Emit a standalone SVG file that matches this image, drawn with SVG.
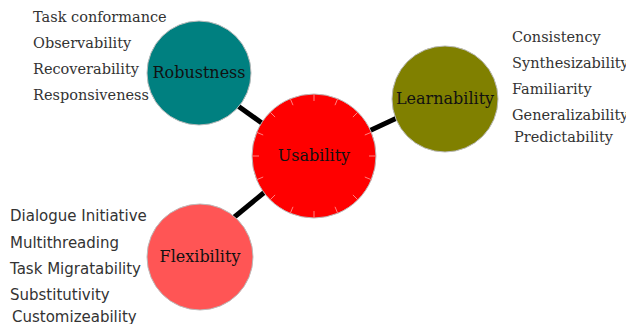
<svg xmlns="http://www.w3.org/2000/svg" width="626" height="324" viewBox="0 0 626 324">
  <style>
    .bubble { stroke: #bbbbbb; stroke-width: 1; }
    .link { stroke: #000; stroke-width: 5; fill: none; }
    .hub { font-family: "DejaVu Serif", serif; font-size: 16px; fill: #111; text-anchor: middle; }
    .item { font-family: "DejaVu Serif", serif; font-size: 14.5px; fill: #333; }
    .item-sans { font-family: "DejaVu Sans", sans-serif; font-size: 15px; fill: #333; }
    .tick { stroke: #ff8080; stroke-width: 1; }
  </style>
  <rect width="626" height="324" fill="#fff"/>

  <g id="connectors">
    <line class="link" x1="238" y1="106" x2="266" y2="126"/>
    <line class="link" x1="369" y1="131" x2="399" y2="117"/>
    <line class="link" x1="232" y1="219" x2="266" y2="191"/>
  </g>

  <g id="robustness">
    <circle class="bubble" cx="199" cy="73" r="52" fill="#008080"/>
    <text class="hub" x="199" y="78">Robustness</text>
    <text class="item" x="33" y="22">Task conformance</text>
    <text class="item" x="33" y="48">Observability</text>
    <text class="item" x="33" y="74">Recoverability</text>
    <text class="item" x="33" y="100">Responsiveness</text>
  </g>

  <g id="usability">
    <circle class="bubble" cx="314" cy="156" r="62" fill="#ff0000"/>
    <g class="tick">
      <line x1="314" y1="94" x2="314" y2="101"/>
      <line x1="314" y1="211" x2="314" y2="218"/>
      <line x1="252" y1="156" x2="259" y2="156"/>
      <line x1="369" y1="156" x2="376" y2="156"/>
      <line x1="337.7" y1="98.7" x2="335" y2="105.2"/>
      <line x1="290.3" y1="98.7" x2="293" y2="105.2"/>
      <line x1="337.7" y1="213.3" x2="335" y2="206.8"/>
      <line x1="290.3" y1="213.3" x2="293" y2="206.8"/>
      <line x1="357.8" y1="112.2" x2="352.9" y2="117.1"/>
      <line x1="270.2" y1="112.2" x2="275.1" y2="117.1"/>
      <line x1="357.8" y1="199.8" x2="352.9" y2="194.9"/>
      <line x1="270.2" y1="199.8" x2="275.1" y2="194.9"/>
      <line x1="371.3" y1="132.3" x2="364.8" y2="135"/>
      <line x1="256.7" y1="132.3" x2="263.2" y2="135"/>
      <line x1="371.3" y1="179.7" x2="364.8" y2="177"/>
      <line x1="256.7" y1="179.7" x2="263.2" y2="177"/>
    </g>
    <text class="hub" x="314" y="161">Usability</text>
  </g>

  <g id="learnability">
    <circle class="bubble" cx="445" cy="99" r="53" fill="#808000"/>
    <text class="hub" x="445" y="104">Learnability</text>
    <text class="item" x="512" y="42">Consistency</text>
    <text class="item" x="512" y="68">Synthesizability</text>
    <text class="item" x="512" y="94">Familiarity</text>
    <text class="item" x="512" y="120">Generalizability</text>
    <text class="item" x="514" y="142">Predictability</text>
  </g>

  <g id="flexibility">
    <circle class="bubble" cx="200" cy="257" r="53" fill="#ff5555"/>
    <text class="hub" x="200" y="262">Flexibility</text>
    <text class="item-sans" x="10" y="221">Dialogue Initiative</text>
    <text class="item-sans" x="10" y="248">Multithreading</text>
    <text class="item-sans" x="10" y="274">Task Migratability</text>
    <text class="item-sans" x="10" y="300">Substitutivity</text>
    <text class="item-sans" x="12" y="322">Customizeability</text>
  </g>
</svg>
